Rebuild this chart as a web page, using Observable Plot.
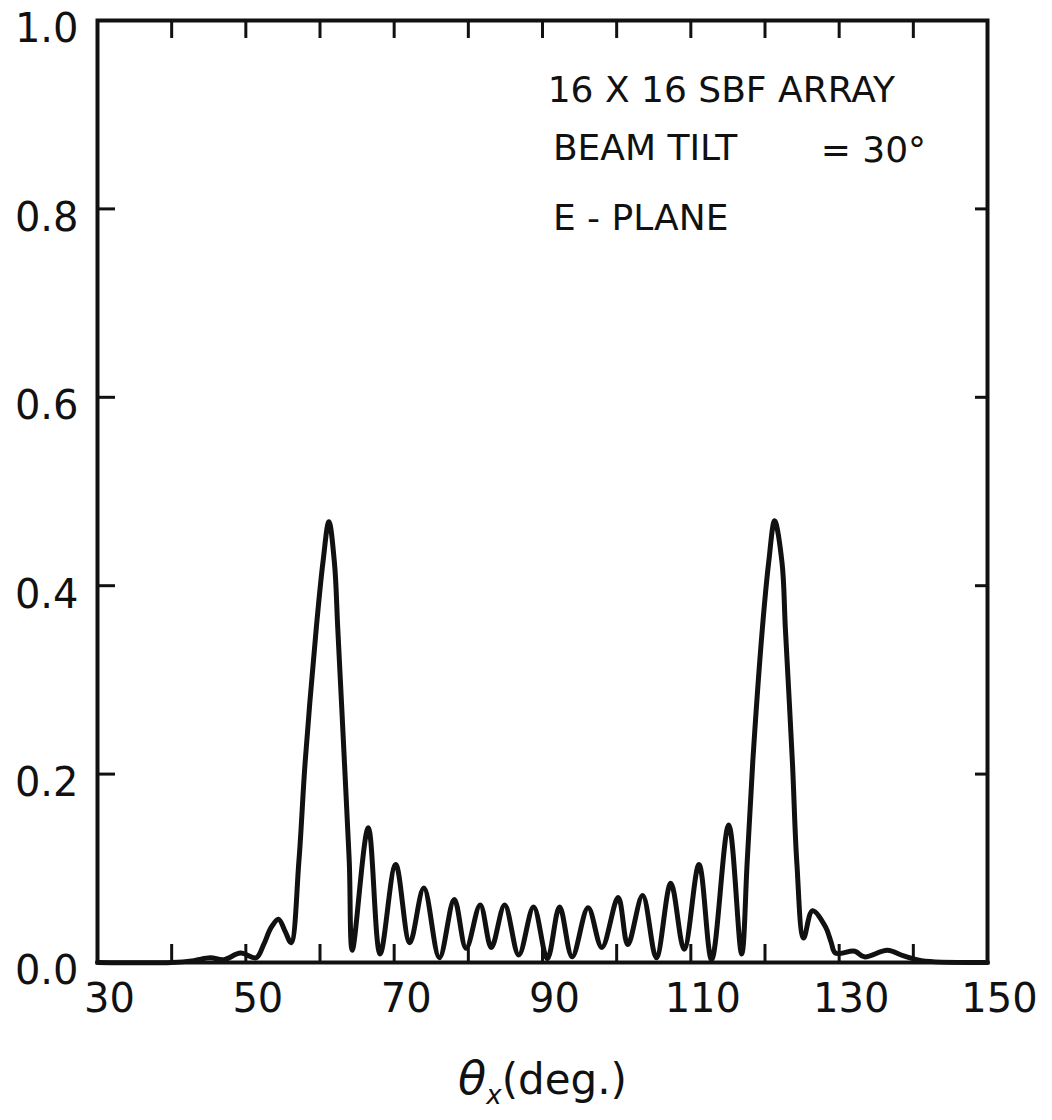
<!DOCTYPE html>
<html>
<head>
<meta charset="utf-8">
<script src="https://cdn.jsdelivr.net/npm/d3@7"></script>
<script src="https://cdn.jsdelivr.net/npm/@observablehq/plot@0.6"></script>
<style>
  html, body { margin: 0; padding: 0; background: #ffffff; }
  #chart svg { display: block; }
</style>
</head>
<body>
<div id="chart"></div>
<script>
// ---- data ----
const theta = [30, 40, 43.0, 45.2, 47.0, 49.3, 51.4, 52.4, 53.4, 54.4, 55.3, 56.1,
  57.15, 58.0, 59.5, 60.4, 61.2, 61.95, 62.4, 63.3, 63.95, 64.35,
  66.5, 68.1, 70.2, 72.1, 74.0, 76.1, 78.1, 79.7, 81.6, 83.1, 84.9, 86.8, 88.8, 90.65,
  92.3, 94.0, 96.15, 98.0, 100.2, 101.5, 103.5, 105.35, 107.3, 109.1, 111.1, 112.8,
  115.1, 116.85, 117.6, 118.35, 119.65, 120.5, 121.3, 122.3, 122.75, 123.7, 124.3,
  125.2, 126.4, 128.15, 128.9, 129.5, 132.1, 133.4, 136.5, 138.7, 141.1, 150];
const amplitude = [0, 0, 0.002, 0.005, 0.003, 0.010, 0.005, 0.019, 0.037, 0.046, 0.033, 0.021,
  0.107, 0.213, 0.355, 0.425, 0.468, 0.424, 0.354, 0.212, 0.106, 0.013,
  0.143, 0.009, 0.104, 0.021, 0.079, 0.005, 0.067, 0.015, 0.061, 0.016, 0.061, 0.008, 0.059, 0.004,
  0.059, 0.006, 0.058, 0.016, 0.069, 0.019, 0.071, 0.005, 0.084, 0.014, 0.104, 0.003,
  0.146, 0.009, 0.107, 0.213, 0.355, 0.425, 0.469, 0.424, 0.354, 0.212, 0.105,
  0.026, 0.055, 0.038, 0.022, 0.010, 0.012, 0.006, 0.013, 0.007, 0.002, 0];

const xTickLabels = [30, 50, 70, 90, 110, 130, 150];
const xMinorTicks = [40, 50, 60, 70, 80, 90, 100, 110, 120, 130, 140];
const yTickLabels = [0, 0.2, 0.4, 0.6, 0.8, 1.0];
const yMinorTicks = [0.2, 0.4, 0.6, 0.8];

const noteText  = ["16 X 16 SBF ARRAY", "BEAM TILT", "= 30°", "E - PLANE"];
const noteTheta = [90.7, 91.4, 127.5, 91.4];
const noteValue = [0.926, 0.864, 0.862, 0.790];

const xAxisLabel = "θx(deg.)";

// ---- layout / style ----
const W = 1052, H = 1120;
const mL = 97, mR = 65, mT = 20, mB = 158;
const plotW = W - mL - mR;
const plotH = H - mT - mB;
const TICK_LONG = 18, TICK_RIGHT = 12;
const INK = "#111111";
const FONT = "'DejaVu Sans', 'Liberation Sans', sans-serif";

const curveData = theta.map((t, i) => ({theta: t, amp: amplitude[i]}));
const notes = noteText.map((t, i) => ({text: t, x: noteTheta[i], y: noteValue[i]}));

const chart = Plot.plot({
  width: W,
  height: H,
  marginLeft: mL,
  marginRight: mR,
  marginTop: mT,
  marginBottom: mB,
  x: {domain: [30, 150], axis: null},
  y: {domain: [0, 1], axis: null},
  style: {fontFamily: FONT, background: "#ffffff", color: INK},
  marks: [
    Plot.axisX({ticks: xTickLabels, tickSize: 0, tickPadding: 21, fontSize: 40, dx: 12, label: null, fill: INK}),
    Plot.axisY({ticks: yTickLabels, tickSize: 0, tickPadding: 19, fontSize: 40, dy: 9,
      tickFormat: d3.format(".1f"), label: null, fill: INK}),
    Plot.tickX(xMinorTicks, {x: d => d, insetTop: plotH - TICK_LONG, stroke: INK, strokeWidth: 3}),
    Plot.tickX(xMinorTicks, {x: d => d, insetBottom: plotH - TICK_LONG, stroke: INK, strokeWidth: 3}),
    Plot.tickY(yMinorTicks, {y: d => d, insetRight: plotW - TICK_LONG, stroke: INK, strokeWidth: 3}),
    Plot.tickY(yMinorTicks, {y: d => d, insetLeft: plotW - TICK_RIGHT, stroke: INK, strokeWidth: 3}),
    Plot.frame({stroke: INK, strokeWidth: 4}),
    Plot.line(curveData, {x: "theta", y: "amp", curve: "catmull-rom", stroke: INK,
      strokeWidth: 5, strokeLinejoin: "round", strokeLinecap: "round"}),
    Plot.text(notes, {x: "x", y: "y", text: "text", textAnchor: "start", lineAnchor: "middle",
      fontSize: 36, fill: INK}),
    Plot.text([xAxisLabel], {frameAnchor: "bottom", text: d => d, dy: 118, lineAnchor: "middle",
      textAnchor: "middle", fontSize: 42, fill: INK})
  ]
});

// style the axis title: italic theta with subscript x
d3.select(chart).selectAll("text")
  .filter(function() { return this.textContent === xAxisLabel; })
  .each(function() {
    const t = d3.select(this);
    t.text(null);
    t.append("tspan").attr("font-style", "italic").attr("font-size", 46).text("θ");
    t.append("tspan").attr("font-style", "italic").attr("font-size", 26).attr("dy", 10).text("x");
    t.append("tspan").attr("dy", -10).text("(deg.)");
  });

document.getElementById("chart").appendChild(chart);
</script>
</body>
</html>
